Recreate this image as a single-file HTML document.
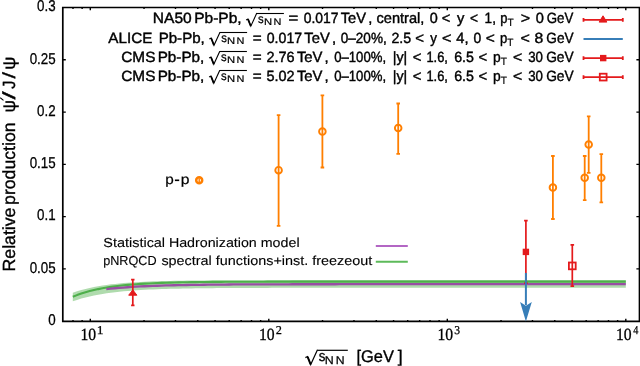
<!DOCTYPE html>
<html><head><meta charset="utf-8"><style>
html,body{margin:0;padding:0;background:#fff;width:640px;height:366px;overflow:hidden}
svg{display:block;will-change:transform;text-rendering:geometricPrecision}
text{fill:#000}
</style></head><body>
<svg width="640" height="366" viewBox="0 0 640 366">
<polygon points="72.8,292.80 77.0,291.35 81.3,290.07 85.5,288.93 89.7,287.93 94.0,287.03 98.2,286.24 102.5,285.54 106.7,284.92 110.9,284.37 115.2,283.88 119.4,283.45 123.6,283.07 127.9,282.73 132.1,282.43 136.4,282.17 140.6,281.93 144.8,281.72 149.1,281.54 153.3,281.37 157.5,281.23 161.8,281.10 166.0,280.99 170.3,280.88 174.5,280.79 178.7,280.72 183.0,280.65 187.2,280.58 191.4,280.53 195.7,280.48 199.9,280.44 204.2,280.40 208.4,280.36 212.6,280.33 216.9,280.31 221.1,280.28 225.3,280.26 229.6,280.24 233.8,280.23 238.1,280.21 242.3,280.20 246.5,280.19 250.8,280.18 255.0,280.17 259.2,280.16 263.5,280.15 267.7,280.15 272.0,280.14 276.2,280.14 280.4,280.13 284.7,280.13 288.9,280.13 293.1,280.12 297.4,280.12 301.6,280.12 305.9,280.12 310.1,280.11 314.3,280.11 318.6,280.11 322.8,280.11 625.8,280.10 625.8,287.80 322.8,287.82 318.6,287.82 314.3,287.82 310.1,287.83 305.9,287.83 301.6,287.83 297.4,287.84 293.1,287.84 288.9,287.85 284.7,287.85 280.4,287.86 276.2,287.86 272.0,287.87 267.7,287.88 263.5,287.89 259.2,287.90 255.0,287.91 250.8,287.92 246.5,287.94 242.3,287.96 238.1,287.97 233.8,288.00 229.6,288.02 225.3,288.04 221.1,288.07 216.9,288.10 212.6,288.14 208.4,288.18 204.2,288.23 199.9,288.28 195.7,288.33 191.4,288.39 187.2,288.46 183.0,288.54 178.7,288.63 174.5,288.73 170.3,288.84 166.0,288.96 161.8,289.10 157.5,289.25 153.3,289.42 149.1,289.61 144.8,289.83 140.6,290.07 136.4,290.33 132.1,290.63 127.9,290.97 123.6,291.34 119.4,291.76 115.2,292.23 110.9,292.75 106.7,293.33 102.5,293.99 98.2,294.71 94.0,295.53 89.7,296.44 85.5,297.46 81.3,298.60 77.0,299.88 72.8,301.30" fill="#4DAF4A" fill-opacity="0.45" stroke="none"/>
<polyline points="72.8,296.80 77.0,295.11 81.3,293.61 85.5,292.28 89.7,291.09 94.0,290.04 98.2,289.10 102.5,288.27 106.7,287.53 110.9,286.87 115.2,286.28 119.4,285.76 123.6,285.30 127.9,284.89 132.1,284.53 136.4,284.20 140.6,283.91 144.8,283.66 149.1,283.43 153.3,283.22 157.5,283.04 161.8,282.88 166.0,282.74 170.3,282.61 174.5,282.50 178.7,282.40 183.0,282.31 187.2,282.23 191.4,282.16 195.7,282.10 199.9,282.04 204.2,282.00 208.4,281.95 212.6,281.91 216.9,281.88 221.1,281.85 225.3,281.82 229.6,281.80 233.8,281.77 238.1,281.75 242.3,281.74 246.5,281.72 250.8,281.71 255.0,281.70 259.2,281.69 263.5,281.68 267.7,281.67 272.0,281.66 276.2,281.65 280.4,281.65 284.7,281.64 288.9,281.64 293.1,281.63 297.4,281.63 301.6,281.63 305.9,281.62 310.1,281.62 314.3,281.62 318.6,281.62 322.8,281.61 625.8,281.60" fill="none" stroke="#4DAF4A" stroke-width="2.1" stroke-linejoin="round"/>
<polyline points="106.3,289.10 110.5,288.65 114.8,288.24 119.0,287.87 123.2,287.53 127.5,287.23 131.7,286.95 136.0,286.70 140.2,286.47 144.4,286.26 148.7,286.07 152.9,285.90 157.1,285.74 161.4,285.60 165.6,285.47 169.9,285.36 174.1,285.25 178.3,285.15 182.6,285.07 186.8,284.99 191.0,284.91 195.3,284.85 199.5,284.79 203.8,284.73 208.0,284.69 212.2,284.64 216.5,284.60 220.7,284.56 224.9,284.53 229.2,284.50 233.4,284.47 237.7,284.45 241.9,284.42 246.1,284.40 250.4,284.39 254.6,284.37 258.8,284.35 263.1,284.34 267.3,284.33 271.6,284.31 275.8,284.30 280.0,284.29 284.3,284.29 288.5,284.28 292.7,284.27 297.0,284.26 301.2,284.26 305.5,284.25 309.7,284.25 313.9,284.24 318.2,284.24 322.4,284.24 326.6,284.23 330.9,284.23 335.1,284.23 339.4,284.22 343.6,284.22 347.8,284.22 352.1,284.22 356.3,284.22 625.8,284.20" fill="none" stroke="#984EA3" stroke-width="2.3" stroke-linejoin="round"/>
<path d="M62.8,268.92h3M639.4,268.92h-3M62.8,216.65h3M639.4,216.65h-3M62.8,164.37h3M639.4,164.37h-3M62.8,112.10h3M639.4,112.10h-3M62.8,59.82h3M639.4,59.82h-3M73.00,321.4v-1.4M73.00,7.5v1.4M82.13,321.4v-1.4M82.13,7.5v1.4M90.30,321.4v-2.7M90.30,7.5v2.7M144.03,321.4v-1.4M144.03,7.5v1.4M175.47,321.4v-1.4M175.47,7.5v1.4M197.77,321.4v-1.4M197.77,7.5v1.4M215.07,321.4v-1.4M215.07,7.5v1.4M229.20,321.4v-1.4M229.20,7.5v1.4M241.15,321.4v-1.4M241.15,7.5v1.4M251.50,321.4v-1.4M251.50,7.5v1.4M260.63,321.4v-1.4M260.63,7.5v1.4M268.80,321.4v-2.7M268.80,7.5v2.7M322.53,321.4v-1.4M322.53,7.5v1.4M353.97,321.4v-1.4M353.97,7.5v1.4M376.27,321.4v-1.4M376.27,7.5v1.4M393.57,321.4v-1.4M393.57,7.5v1.4M407.70,321.4v-1.4M407.70,7.5v1.4M419.65,321.4v-1.4M419.65,7.5v1.4M430.00,321.4v-1.4M430.00,7.5v1.4M439.13,321.4v-1.4M439.13,7.5v1.4M447.30,321.4v-2.7M447.30,7.5v2.7M501.03,321.4v-1.4M501.03,7.5v1.4M532.47,321.4v-1.4M532.47,7.5v1.4M554.77,321.4v-1.4M554.77,7.5v1.4M572.07,321.4v-1.4M572.07,7.5v1.4M586.20,321.4v-1.4M586.20,7.5v1.4M598.15,321.4v-1.4M598.15,7.5v1.4M608.50,321.4v-1.4M608.50,7.5v1.4M617.63,321.4v-1.4M617.63,7.5v1.4M625.80,321.4v-2.7M625.80,7.5v2.7" stroke="#000" stroke-width="1.4" fill="none"/>
<path d="M61.949999999999996,7.5H640.15M61.949999999999996,321.4H640.15" stroke="#000" stroke-width="1.7"/>
<path d="M62.8,7.5V321.4" stroke="#000" stroke-width="1.7"/>
<path d="M639.4,7.5V321.4" stroke="#000" stroke-width="1.5"/>
<path d="M278.6,114.2V226.7M276.8,115.10000000000001h3.6M276.8,225.79999999999998h3.6" stroke="#FF7F00" stroke-width="1.8" fill="none"/>
<circle cx="278.6" cy="170.2" r="3.3" fill="none" stroke="#FF7F00" stroke-width="1.9"/>
<path d="M322.4,94.5V168.4M320.59999999999997,95.4h3.6M320.59999999999997,167.5h3.6" stroke="#FF7F00" stroke-width="1.8" fill="none"/>
<circle cx="322.4" cy="131.6" r="3.3" fill="none" stroke="#FF7F00" stroke-width="1.9"/>
<path d="M398.2,102.6V154.7M396.4,103.5h3.6M396.4,153.79999999999998h3.6" stroke="#FF7F00" stroke-width="1.8" fill="none"/>
<circle cx="398.2" cy="128.0" r="3.3" fill="none" stroke="#FF7F00" stroke-width="1.9"/>
<path d="M552.9,155.1V219.9M551.1,156.0h3.6M551.1,219.0h3.6" stroke="#FF7F00" stroke-width="1.8" fill="none"/>
<circle cx="552.9" cy="187.6" r="3.3" fill="none" stroke="#FF7F00" stroke-width="1.9"/>
<path d="M584.7,155.1V201.1M582.9000000000001,156.0h3.6M582.9000000000001,200.2h3.6" stroke="#FF7F00" stroke-width="1.8" fill="none"/>
<circle cx="584.7" cy="177.8" r="3.3" fill="none" stroke="#FF7F00" stroke-width="1.9"/>
<path d="M588.7,115.5V173.8M586.9000000000001,116.4h3.6M586.9000000000001,172.9h3.6" stroke="#FF7F00" stroke-width="1.8" fill="none"/>
<circle cx="588.7" cy="144.5" r="3.3" fill="none" stroke="#FF7F00" stroke-width="1.9"/>
<path d="M601.3,153.3V203.2M599.5,154.20000000000002h3.6M599.5,202.29999999999998h3.6" stroke="#FF7F00" stroke-width="1.8" fill="none"/>
<circle cx="601.3" cy="177.8" r="3.3" fill="none" stroke="#FF7F00" stroke-width="1.9"/>
<circle cx="199.2" cy="180.15" r="3.0" fill="none" stroke="#FF7F00" stroke-width="2.5"/>
<path d="M199.2,178.2V182.1" stroke="#FF7F00" stroke-width="1.4"/>
<path d="M132.8,278.8V306.2M131.10000000000002,279.7h3.4M131.10000000000002,305.3h3.4" stroke="#E41A1C" stroke-width="1.7" fill="none"/>
<path d="M132.8,289.9L136.9,295.2L128.70000000000002,295.2Z" fill="#E41A1C" stroke="#E41A1C" stroke-width="1"/>
<path d="M525.9,219.8V284M524.1,220.7h3.6M524.1,283.1h3.6" stroke="#E41A1C" stroke-width="1.7" fill="none"/>
<rect x="522.6999999999999" y="248.70000000000002" width="6.4" height="6.4" fill="#E41A1C"/>
<path d="M572.3,244V287.1M570.5,244.9h3.6M570.5,286.2h3.6" stroke="#E41A1C" stroke-width="1.7" fill="none"/>
<rect x="568.9" y="262.5" width="6.8" height="6.8" fill="none" stroke="#E41A1C" stroke-width="1.8"/>
<path d="M525.9,273V305" stroke="#377EB8" stroke-width="2" fill="none"/>
<path d="M520.1,302L525.9,305.7L531.8,302L525.9,321.6Z" fill="#377EB8"/>
<path d="M583.5,19.9H622.8M583.5,18.099999999999998v3.6M622.8,18.099999999999998v3.6" stroke="#E41A1C" stroke-width="1.8" fill="none"/>
<path d="M603.0,15.8L606.9000000000001,22.1L599.1,22.1Z" fill="#E41A1C" stroke="#E41A1C" stroke-width="1"/>
<path d="M583.5,39.0H622.8" stroke="#377EB8" stroke-width="1.8"/>
<path d="M583.5,58.1H622.8M583.5,56.300000000000004v3.6M622.8,56.300000000000004v3.6" stroke="#E41A1C" stroke-width="1.8" fill="none"/>
<rect x="600.0" y="54.9" width="6.4" height="6.4" fill="#E41A1C"/>
<path d="M583.5,77.1H622.8M583.5,75.3v3.6M622.8,75.3v3.6" stroke="#E41A1C" stroke-width="1.8" fill="none"/>
<rect x="599.8000000000001" y="73.69999999999999" width="6.8" height="6.8" fill="none" stroke="#E41A1C" stroke-width="1.8"/>
<path d="M375.8,246H407.8" stroke="#B366C4" stroke-width="2"/>
<path d="M375.8,261.8H407.8" stroke="#5DBA5A" stroke-width="2"/>
<g transform="translate(55.6,0) scale(0.855,1)">
<text x="0" y="324.90" font-family="Liberation Sans" font-size="15.6" text-anchor="end" stroke="#000" stroke-width="0.3">0</text>
<text x="0" y="272.62" font-family="Liberation Sans" font-size="15.6" text-anchor="end" stroke="#000" stroke-width="0.3">0.05</text>
<text x="0" y="220.35" font-family="Liberation Sans" font-size="15.6" text-anchor="end" stroke="#000" stroke-width="0.3">0.1</text>
<text x="0" y="168.07" font-family="Liberation Sans" font-size="15.6" text-anchor="end" stroke="#000" stroke-width="0.3">0.15</text>
<text x="0" y="115.80" font-family="Liberation Sans" font-size="15.6" text-anchor="end" stroke="#000" stroke-width="0.3">0.2</text>
<text x="0" y="63.52" font-family="Liberation Sans" font-size="15.6" text-anchor="end" stroke="#000" stroke-width="0.3">0.25</text>
<text x="0" y="11.25" font-family="Liberation Sans" font-size="15.6" text-anchor="end" stroke="#000" stroke-width="0.3">0.3</text>
</g>
<path d="M246.10,20.00L248.00,19.00L250.80,26.20L256.80,13.10" stroke="#000" stroke-width="1.1" fill="none" stroke-linejoin="miter"/>
<path d="M248.10,19.40L250.70,26.00" stroke="#000" stroke-width="1.7600000000000002" fill="none"/>
<path d="M256.50,13.50H283.90" stroke="#000" stroke-width="1.1"/>
<path d="M209.30,39.10L211.20,38.10L214.00,45.30L220.00,32.20" stroke="#000" stroke-width="1.1" fill="none" stroke-linejoin="miter"/>
<path d="M211.30,38.50L213.90,45.10" stroke="#000" stroke-width="1.7600000000000002" fill="none"/>
<path d="M219.70,32.50H247.10" stroke="#000" stroke-width="1.1"/>
<path d="M209.10,58.10L211.00,57.10L213.80,64.30L219.80,51.20" stroke="#000" stroke-width="1.1" fill="none" stroke-linejoin="miter"/>
<path d="M211.10,57.50L213.70,64.10" stroke="#000" stroke-width="1.7600000000000002" fill="none"/>
<path d="M219.50,51.50H246.90" stroke="#000" stroke-width="1.1"/>
<path d="M209.10,77.10L211.00,76.10L213.80,83.30L219.80,70.20" stroke="#000" stroke-width="1.1" fill="none" stroke-linejoin="miter"/>
<path d="M211.10,76.50L213.70,83.10" stroke="#000" stroke-width="1.7600000000000002" fill="none"/>
<path d="M219.50,70.50H246.90" stroke="#000" stroke-width="1.1"/>
<rect x="174.9" y="179.5" width="4.3" height="1.6" fill="#000"/>
<path d="M305.40,357.61L307.55,356.48L310.71,364.62L317.49,349.81" stroke="#000" stroke-width="1.2" fill="none" stroke-linejoin="miter"/>
<path d="M307.66,356.93L310.60,364.39" stroke="#000" stroke-width="1.92" fill="none"/>
<path d="M317.3,350.3H347.8" stroke="#000" stroke-width="1.2"/>
<text x="80.51" y="339.60" font-family="Liberation Serif" font-size="17.2" textLength="15.69" lengthAdjust="spacingAndGlyphs" stroke="#000" stroke-width="0.3">10</text>
<text x="96.67" y="334.20" font-family="Liberation Serif" font-size="12" textLength="6.80" lengthAdjust="spacingAndGlyphs" stroke="#000" stroke-width="0.25">1</text>
<text x="259.01" y="339.60" font-family="Liberation Serif" font-size="17.2" textLength="15.69" lengthAdjust="spacingAndGlyphs" stroke="#000" stroke-width="0.3">10</text>
<text x="275.79" y="334.20" font-family="Liberation Serif" font-size="12" textLength="6.12" lengthAdjust="spacingAndGlyphs" stroke="#000" stroke-width="0.25">2</text>
<text x="437.51" y="339.60" font-family="Liberation Serif" font-size="17.2" textLength="15.69" lengthAdjust="spacingAndGlyphs" stroke="#000" stroke-width="0.3">10</text>
<text x="454.31" y="334.20" font-family="Liberation Serif" font-size="12" textLength="5.83" lengthAdjust="spacingAndGlyphs" stroke="#000" stroke-width="0.25">3</text>
<text x="616.01" y="339.60" font-family="Liberation Serif" font-size="17.2" textLength="15.69" lengthAdjust="spacingAndGlyphs" stroke="#000" stroke-width="0.3">10</text>
<text x="633.30" y="334.20" font-family="Liberation Serif" font-size="12" textLength="5.10" lengthAdjust="spacingAndGlyphs" stroke="#000" stroke-width="0.25">4</text>
<text x="152.85" y="23.00" font-family="Liberation Sans" font-size="14.8" textLength="38.83" lengthAdjust="spacingAndGlyphs" stroke="#000" stroke-width="0.42">NA50</text>
<text x="194.25" y="23.00" font-family="Liberation Sans" font-size="14.8" textLength="47.35" lengthAdjust="spacingAndGlyphs" stroke="#000" stroke-width="0.42">Pb-Pb,</text>
<text x="258.07" y="23.00" font-family="Liberation Sans" font-size="12.5" textLength="5.65" lengthAdjust="spacingAndGlyphs" stroke="#000" stroke-width="0.25">s</text>
<text x="263.91" y="25.10" font-family="Liberation Sans" font-size="9.5" textLength="8.12" lengthAdjust="spacingAndGlyphs" stroke="#000" stroke-width="0.2">N</text>
<text x="273.44" y="25.10" font-family="Liberation Sans" font-size="9.5" textLength="7.88" lengthAdjust="spacingAndGlyphs" stroke="#000" stroke-width="0.2">N</text>
<text x="288.63" y="23.00" font-family="Liberation Sans" font-size="14.8" textLength="9.81" lengthAdjust="spacingAndGlyphs" stroke="#000" stroke-width="0.42">=</text>
<text x="303.66" y="23.00" font-family="Liberation Sans" font-size="14.8" textLength="34.83" lengthAdjust="spacingAndGlyphs" stroke="#000" stroke-width="0.42">0.017</text>
<text x="340.70" y="23.00" font-family="Liberation Sans" font-size="14.8" textLength="25.25" lengthAdjust="spacingAndGlyphs" stroke="#000" stroke-width="0.42">TeV</text>
<text x="368.15" y="23.00" font-family="Liberation Sans" font-size="14.8" textLength="4.12" lengthAdjust="spacingAndGlyphs" stroke="#000" stroke-width="0.42">,</text>
<text x="376.51" y="23.00" font-family="Liberation Sans" font-size="14.8" textLength="47.81" lengthAdjust="spacingAndGlyphs" stroke="#000" stroke-width="0.42">central,</text>
<text x="429.86" y="23.00" font-family="Liberation Sans" font-size="14.8" textLength="8.01" lengthAdjust="spacingAndGlyphs" stroke="#000" stroke-width="0.42">0</text>
<text x="441.70" y="23.00" font-family="Liberation Sans" font-size="14.8" textLength="8.60" lengthAdjust="spacingAndGlyphs" stroke="#000" stroke-width="0.42">&lt;</text>
<text x="457.05" y="23.00" font-family="Liberation Sans" font-size="14.8" textLength="7.36" lengthAdjust="spacingAndGlyphs" stroke="#000" stroke-width="0.42">y</text>
<text x="470.04" y="23.00" font-family="Liberation Sans" font-size="14.8" textLength="8.04" lengthAdjust="spacingAndGlyphs" stroke="#000" stroke-width="0.42">&lt;</text>
<text x="484.58" y="23.00" font-family="Liberation Sans" font-size="14.8" textLength="11.32" lengthAdjust="spacingAndGlyphs" stroke="#000" stroke-width="0.42">1,</text>
<text x="500.25" y="23.00" font-family="Liberation Sans" font-size="14.8" textLength="7.18" lengthAdjust="spacingAndGlyphs" stroke="#000" stroke-width="0.42">p</text>
<text x="520.66" y="23.00" font-family="Liberation Sans" font-size="14.8" textLength="9.35" lengthAdjust="spacingAndGlyphs" stroke="#000" stroke-width="0.42">&gt;</text>
<text x="535.65" y="23.00" font-family="Liberation Sans" font-size="14.8" textLength="8.12" lengthAdjust="spacingAndGlyphs" stroke="#000" stroke-width="0.42">0</text>
<text x="546.75" y="23.00" font-family="Liberation Sans" font-size="14.8" textLength="26.52" lengthAdjust="spacingAndGlyphs" stroke="#000" stroke-width="0.42">GeV</text>
<text x="507.56" y="26.00" font-family="Liberation Sans" font-size="10.5" textLength="6.21" lengthAdjust="spacingAndGlyphs" stroke="#000" stroke-width="0.2">T</text>
<text x="108.36" y="43.00" font-family="Liberation Sans" font-size="14.8" textLength="43.97" lengthAdjust="spacingAndGlyphs" stroke="#000" stroke-width="0.42">ALICE</text>
<text x="158.68" y="43.00" font-family="Liberation Sans" font-size="14.8" textLength="46.09" lengthAdjust="spacingAndGlyphs" stroke="#000" stroke-width="0.42">Pb-Pb,</text>
<text x="221.27" y="42.10" font-family="Liberation Sans" font-size="12.5" textLength="5.65" lengthAdjust="spacingAndGlyphs" stroke="#000" stroke-width="0.25">s</text>
<text x="227.11" y="44.20" font-family="Liberation Sans" font-size="9.5" textLength="8.12" lengthAdjust="spacingAndGlyphs" stroke="#000" stroke-width="0.2">N</text>
<text x="236.64" y="44.20" font-family="Liberation Sans" font-size="9.5" textLength="7.88" lengthAdjust="spacingAndGlyphs" stroke="#000" stroke-width="0.2">N</text>
<text x="252.79" y="43.00" font-family="Liberation Sans" font-size="14.8" textLength="8.89" lengthAdjust="spacingAndGlyphs" stroke="#000" stroke-width="0.42">=</text>
<text x="266.76" y="43.00" font-family="Liberation Sans" font-size="14.8" textLength="35.35" lengthAdjust="spacingAndGlyphs" stroke="#000" stroke-width="0.42">0.017</text>
<text x="304.30" y="43.00" font-family="Liberation Sans" font-size="14.8" textLength="25.45" lengthAdjust="spacingAndGlyphs" stroke="#000" stroke-width="0.42">TeV</text>
<text x="331.90" y="43.00" font-family="Liberation Sans" font-size="14.8" textLength="4.12" lengthAdjust="spacingAndGlyphs" stroke="#000" stroke-width="0.42">,</text>
<text x="340.77" y="43.00" font-family="Liberation Sans" font-size="14.8" textLength="45.92" lengthAdjust="spacingAndGlyphs" stroke="#000" stroke-width="0.42">0–20%,</text>
<text x="391.42" y="43.00" font-family="Liberation Sans" font-size="14.8" textLength="19.73" lengthAdjust="spacingAndGlyphs" stroke="#000" stroke-width="0.42">2.5</text>
<text x="415.39" y="43.00" font-family="Liberation Sans" font-size="14.8" textLength="8.77" lengthAdjust="spacingAndGlyphs" stroke="#000" stroke-width="0.42">&lt;</text>
<text x="430.23" y="43.00" font-family="Liberation Sans" font-size="14.8" textLength="6.69" lengthAdjust="spacingAndGlyphs" stroke="#000" stroke-width="0.42">y</text>
<text x="441.95" y="43.00" font-family="Liberation Sans" font-size="14.8" textLength="9.49" lengthAdjust="spacingAndGlyphs" stroke="#000" stroke-width="0.42">&lt;</text>
<text x="456.35" y="43.00" font-family="Liberation Sans" font-size="14.8" textLength="12.23" lengthAdjust="spacingAndGlyphs" stroke="#000" stroke-width="0.42">4,</text>
<text x="473.51" y="43.00" font-family="Liberation Sans" font-size="14.8" textLength="7.74" lengthAdjust="spacingAndGlyphs" stroke="#000" stroke-width="0.42">0</text>
<text x="485.72" y="43.00" font-family="Liberation Sans" font-size="14.8" textLength="9.10" lengthAdjust="spacingAndGlyphs" stroke="#000" stroke-width="0.42">&lt;</text>
<text x="500.04" y="43.00" font-family="Liberation Sans" font-size="14.8" textLength="7.29" lengthAdjust="spacingAndGlyphs" stroke="#000" stroke-width="0.42">p</text>
<text x="520.46" y="43.00" font-family="Liberation Sans" font-size="14.8" textLength="9.38" lengthAdjust="spacingAndGlyphs" stroke="#000" stroke-width="0.42">&lt;</text>
<text x="534.47" y="43.00" font-family="Liberation Sans" font-size="14.8" textLength="8.75" lengthAdjust="spacingAndGlyphs" stroke="#000" stroke-width="0.42">8</text>
<text x="546.34" y="43.00" font-family="Liberation Sans" font-size="14.8" textLength="27.23" lengthAdjust="spacingAndGlyphs" stroke="#000" stroke-width="0.42">GeV</text>
<text x="507.36" y="46.00" font-family="Liberation Sans" font-size="10.5" textLength="6.21" lengthAdjust="spacingAndGlyphs" stroke="#000" stroke-width="0.2">T</text>
<text x="121.28" y="62.00" font-family="Liberation Sans" font-size="14.8" textLength="34.12" lengthAdjust="spacingAndGlyphs" stroke="#000" stroke-width="0.42">CMS</text>
<text x="157.67" y="62.00" font-family="Liberation Sans" font-size="14.8" textLength="46.62" lengthAdjust="spacingAndGlyphs" stroke="#000" stroke-width="0.42">Pb-Pb,</text>
<text x="221.07" y="61.10" font-family="Liberation Sans" font-size="12.5" textLength="5.65" lengthAdjust="spacingAndGlyphs" stroke="#000" stroke-width="0.25">s</text>
<text x="226.91" y="63.20" font-family="Liberation Sans" font-size="9.5" textLength="8.12" lengthAdjust="spacingAndGlyphs" stroke="#000" stroke-width="0.2">N</text>
<text x="236.44" y="63.20" font-family="Liberation Sans" font-size="9.5" textLength="7.88" lengthAdjust="spacingAndGlyphs" stroke="#000" stroke-width="0.2">N</text>
<text x="252.79" y="62.00" font-family="Liberation Sans" font-size="14.8" textLength="8.89" lengthAdjust="spacingAndGlyphs" stroke="#000" stroke-width="0.42">=</text>
<text x="266.51" y="62.00" font-family="Liberation Sans" font-size="14.8" textLength="28.14" lengthAdjust="spacingAndGlyphs" stroke="#000" stroke-width="0.42">2.76</text>
<text x="296.90" y="62.00" font-family="Liberation Sans" font-size="14.8" textLength="25.55" lengthAdjust="spacingAndGlyphs" stroke="#000" stroke-width="0.42">TeV</text>
<text x="324.40" y="62.00" font-family="Liberation Sans" font-size="14.8" textLength="4.12" lengthAdjust="spacingAndGlyphs" stroke="#000" stroke-width="0.42">,</text>
<text x="334.18" y="62.00" font-family="Liberation Sans" font-size="14.8" textLength="51.86" lengthAdjust="spacingAndGlyphs" stroke="#000" stroke-width="0.42">0–100%,</text>
<text x="392.79" y="62.00" font-family="Liberation Sans" font-size="14.8" textLength="14.51" lengthAdjust="spacingAndGlyphs" stroke="#000" stroke-width="0.42">|y|</text>
<text x="412.80" y="62.00" font-family="Liberation Sans" font-size="14.8" textLength="8.71" lengthAdjust="spacingAndGlyphs" stroke="#000" stroke-width="0.42">&lt;</text>
<text x="426.43" y="62.00" font-family="Liberation Sans" font-size="14.8" textLength="21.51" lengthAdjust="spacingAndGlyphs" stroke="#000" stroke-width="0.42">1.6,</text>
<text x="454.22" y="62.00" font-family="Liberation Sans" font-size="14.8" textLength="19.73" lengthAdjust="spacingAndGlyphs" stroke="#000" stroke-width="0.42">6.5</text>
<text x="478.40" y="62.00" font-family="Liberation Sans" font-size="14.8" textLength="8.71" lengthAdjust="spacingAndGlyphs" stroke="#000" stroke-width="0.42">&lt;</text>
<text x="493.05" y="62.00" font-family="Liberation Sans" font-size="14.8" textLength="7.71" lengthAdjust="spacingAndGlyphs" stroke="#000" stroke-width="0.42">p</text>
<text x="513.06" y="62.00" font-family="Liberation Sans" font-size="14.8" textLength="9.27" lengthAdjust="spacingAndGlyphs" stroke="#000" stroke-width="0.42">&lt;</text>
<text x="528.18" y="62.00" font-family="Liberation Sans" font-size="14.8" textLength="14.74" lengthAdjust="spacingAndGlyphs" stroke="#000" stroke-width="0.42">30</text>
<text x="546.14" y="62.00" font-family="Liberation Sans" font-size="14.8" textLength="27.48" lengthAdjust="spacingAndGlyphs" stroke="#000" stroke-width="0.42">GeV</text>
<text x="500.76" y="65.00" font-family="Liberation Sans" font-size="10.5" textLength="6.21" lengthAdjust="spacingAndGlyphs" stroke="#000" stroke-width="0.2">T</text>
<text x="121.28" y="81.00" font-family="Liberation Sans" font-size="14.8" textLength="34.12" lengthAdjust="spacingAndGlyphs" stroke="#000" stroke-width="0.42">CMS</text>
<text x="157.67" y="81.00" font-family="Liberation Sans" font-size="14.8" textLength="46.62" lengthAdjust="spacingAndGlyphs" stroke="#000" stroke-width="0.42">Pb-Pb,</text>
<text x="221.07" y="80.10" font-family="Liberation Sans" font-size="12.5" textLength="5.65" lengthAdjust="spacingAndGlyphs" stroke="#000" stroke-width="0.25">s</text>
<text x="226.91" y="82.20" font-family="Liberation Sans" font-size="9.5" textLength="8.12" lengthAdjust="spacingAndGlyphs" stroke="#000" stroke-width="0.2">N</text>
<text x="236.44" y="82.20" font-family="Liberation Sans" font-size="9.5" textLength="7.88" lengthAdjust="spacingAndGlyphs" stroke="#000" stroke-width="0.2">N</text>
<text x="252.79" y="81.00" font-family="Liberation Sans" font-size="14.8" textLength="8.89" lengthAdjust="spacingAndGlyphs" stroke="#000" stroke-width="0.42">=</text>
<text x="266.51" y="81.00" font-family="Liberation Sans" font-size="14.8" textLength="28.14" lengthAdjust="spacingAndGlyphs" stroke="#000" stroke-width="0.42">5.02</text>
<text x="296.90" y="81.00" font-family="Liberation Sans" font-size="14.8" textLength="25.55" lengthAdjust="spacingAndGlyphs" stroke="#000" stroke-width="0.42">TeV</text>
<text x="324.40" y="81.00" font-family="Liberation Sans" font-size="14.8" textLength="4.12" lengthAdjust="spacingAndGlyphs" stroke="#000" stroke-width="0.42">,</text>
<text x="334.18" y="81.00" font-family="Liberation Sans" font-size="14.8" textLength="51.86" lengthAdjust="spacingAndGlyphs" stroke="#000" stroke-width="0.42">0–100%,</text>
<text x="392.79" y="81.00" font-family="Liberation Sans" font-size="14.8" textLength="14.51" lengthAdjust="spacingAndGlyphs" stroke="#000" stroke-width="0.42">|y|</text>
<text x="412.80" y="81.00" font-family="Liberation Sans" font-size="14.8" textLength="8.71" lengthAdjust="spacingAndGlyphs" stroke="#000" stroke-width="0.42">&lt;</text>
<text x="426.43" y="81.00" font-family="Liberation Sans" font-size="14.8" textLength="21.51" lengthAdjust="spacingAndGlyphs" stroke="#000" stroke-width="0.42">1.6,</text>
<text x="454.22" y="81.00" font-family="Liberation Sans" font-size="14.8" textLength="19.73" lengthAdjust="spacingAndGlyphs" stroke="#000" stroke-width="0.42">6.5</text>
<text x="478.40" y="81.00" font-family="Liberation Sans" font-size="14.8" textLength="8.71" lengthAdjust="spacingAndGlyphs" stroke="#000" stroke-width="0.42">&lt;</text>
<text x="493.05" y="81.00" font-family="Liberation Sans" font-size="14.8" textLength="7.71" lengthAdjust="spacingAndGlyphs" stroke="#000" stroke-width="0.42">p</text>
<text x="513.06" y="81.00" font-family="Liberation Sans" font-size="14.8" textLength="9.27" lengthAdjust="spacingAndGlyphs" stroke="#000" stroke-width="0.42">&lt;</text>
<text x="528.18" y="81.00" font-family="Liberation Sans" font-size="14.8" textLength="14.74" lengthAdjust="spacingAndGlyphs" stroke="#000" stroke-width="0.42">30</text>
<text x="546.14" y="81.00" font-family="Liberation Sans" font-size="14.8" textLength="27.48" lengthAdjust="spacingAndGlyphs" stroke="#000" stroke-width="0.42">GeV</text>
<text x="500.76" y="84.00" font-family="Liberation Sans" font-size="10.5" textLength="6.21" lengthAdjust="spacingAndGlyphs" stroke="#000" stroke-width="0.2">T</text>
<text x="165.17" y="184.00" font-family="Liberation Sans" font-size="13.8" textLength="8.52" lengthAdjust="spacingAndGlyphs" stroke="#000" stroke-width="0.2">p</text>
<text x="180.85" y="184.00" font-family="Liberation Sans" font-size="13.8" textLength="8.75" lengthAdjust="spacingAndGlyphs" stroke="#000" stroke-width="0.2">p</text>
<text x="103.35" y="246.60" font-family="Liberation Sans" font-size="13" textLength="61.74" lengthAdjust="spacingAndGlyphs" stroke="#000" stroke-width="0.12">Statistical</text>
<text x="168.90" y="246.60" font-family="Liberation Sans" font-size="13" textLength="130.65" lengthAdjust="spacingAndGlyphs" stroke="#000" stroke-width="0.12">Hadronization model</text>
<text x="103.17" y="264.60" font-family="Liberation Sans" font-size="13" textLength="53.47" lengthAdjust="spacingAndGlyphs" stroke="#000" stroke-width="0.12">pNRQCD</text>
<text x="161.42" y="264.60" font-family="Liberation Sans" font-size="13" textLength="210.89" lengthAdjust="spacingAndGlyphs" stroke="#000" stroke-width="0.12">spectral functions+inst. freezeout</text>
<text x="318.68" y="361.00" font-family="Liberation Sans" font-size="15" textLength="6.67" lengthAdjust="spacingAndGlyphs" stroke="#000" stroke-width="0.3">s</text>
<text x="324.77" y="364.00" font-family="Liberation Sans" font-size="11.2" textLength="8.97" lengthAdjust="spacingAndGlyphs" stroke="#000" stroke-width="0.25">N</text>
<text x="335.68" y="364.00" font-family="Liberation Sans" font-size="11.2" textLength="8.84" lengthAdjust="spacingAndGlyphs" stroke="#000" stroke-width="0.25">N</text>
<text x="356.52" y="361.60" font-family="Liberation Sans" font-size="16.8" textLength="37.43" lengthAdjust="spacingAndGlyphs" stroke="#000" stroke-width="0.35">[GeV</text>
<text x="397.75" y="361.60" font-family="Liberation Sans" font-size="16.8" textLength="4.92" lengthAdjust="spacingAndGlyphs" stroke="#000" stroke-width="0.35">]</text>
<path d="M0.2,97.7L3.5,100.4" stroke="#000" stroke-width="1.1"/>
<g transform="translate(15.2,0) rotate(-90)">
<text x="-271.46" y="0.00" font-family="Liberation Sans" font-size="17.6" textLength="63.84" lengthAdjust="spacingAndGlyphs" stroke="#000" stroke-width="0.35">Relative</text>
<text x="-204.90" y="0.00" font-family="Liberation Sans" font-size="17.6" textLength="82.43" lengthAdjust="spacingAndGlyphs" stroke="#000" stroke-width="0.35">production</text>
<text x="-112.39" y="0.00" font-family="Liberation Sans" font-size="17.6" textLength="12.43" lengthAdjust="spacingAndGlyphs" stroke="#000" stroke-width="0.35">ψ</text>
<text x="-99.58" y="0.00" font-family="Liberation Sans" font-size="17.6" textLength="8.20" lengthAdjust="spacingAndGlyphs" stroke="#000" stroke-width="0.35">/</text>
<text x="-88.73" y="0.00" font-family="Liberation Sans" font-size="17.6" textLength="8.09" lengthAdjust="spacingAndGlyphs" stroke="#000" stroke-width="0.35">J</text>
<text x="-78.57" y="0.00" font-family="Liberation Sans" font-size="17.6" textLength="6.43" lengthAdjust="spacingAndGlyphs" stroke="#000" stroke-width="0.35">/</text>
<text x="-69.75" y="0.00" font-family="Liberation Sans" font-size="17.6" textLength="13.14" lengthAdjust="spacingAndGlyphs" stroke="#000" stroke-width="0.35">ψ</text>
</g>
</svg>
</body></html>
